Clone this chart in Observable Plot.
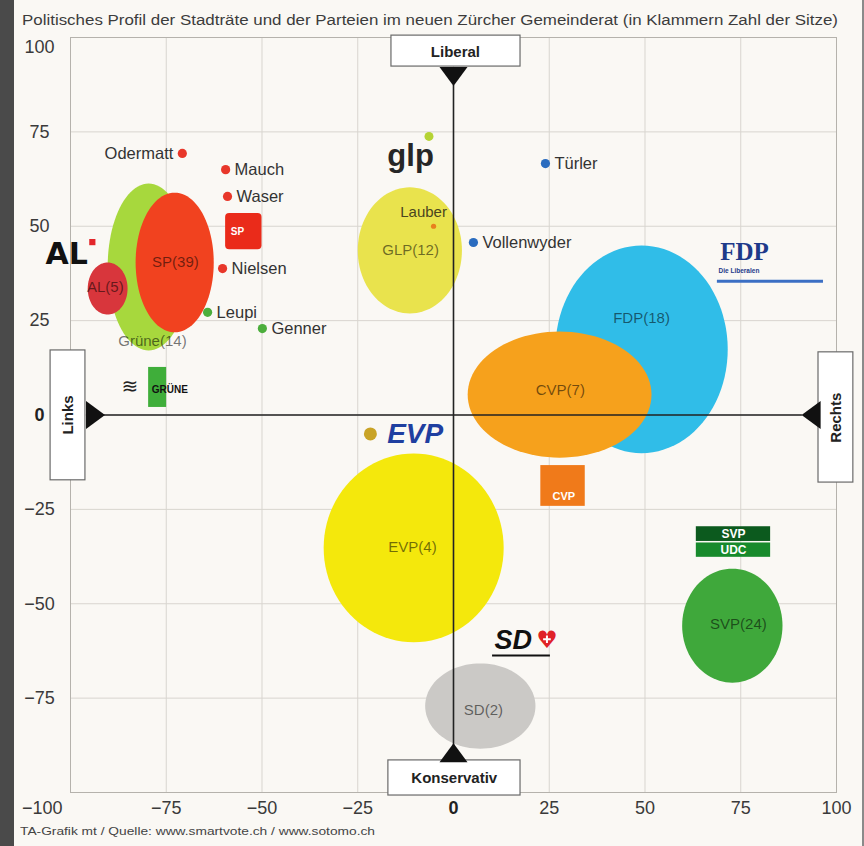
<!DOCTYPE html>
<html><head><meta charset="utf-8">
<script src="https://cdn.jsdelivr.net/npm/d3@7"></script>
<script src="https://cdn.jsdelivr.net/npm/@observablehq/plot@0.6"></script>
<style>
html,body{margin:0;padding:0;background:#faf8f4;width:864px;height:846px;overflow:hidden;position:relative;font-family:"Liberation Sans",Arial,sans-serif;}
#strip{position:absolute;left:0;top:0;width:14px;height:846px;background:#4a4a4a;}
#rstrip{position:absolute;right:0;top:0;width:2px;height:846px;background:#8a8a8a;}
#title{position:absolute;left:22px;top:12px;font:14px "Liberation Sans Narrow","Liberation Sans",sans-serif;color:#3c3c3c;white-space:nowrap;transform-origin:0 0;line-height:16px;}
#chart{position:absolute;left:0;top:30px;}
#caption{position:absolute;left:20px;top:825px;font:11px "Liberation Sans Narrow","Liberation Sans",sans-serif;color:#444;white-space:nowrap;transform-origin:0 0;line-height:13px;}
</style></head><body>
<div id="strip"></div><div id="rstrip"></div>
<div id="title">Politisches Profil der Stadträte und der Parteien im neuen Zürcher Gemeinderat (in Klammern Zahl der Sitze)</div>
<div id="chart"></div>
<div id="caption">TA-Grafik mt / Quelle: www.smartvote.ch / www.sotomo.ch</div>
<script>
// ---- data: parties (position = centre of profile ellipse, spread = semi-axes) ----
const partyNames = ["Grüne","SP","AL","GLP","FDP","CVP","EVP","SD","SVP"];
const partySeats = [14, 39, 5, 12, 18, 7, 4, 2, 24];
const partyX  = [-79.6, -72.8, -90.3, -11.4, 49.1, 27.7, -10.4, 7.0, 72.8];
const partyY  = [ 39.2,  40.4,  33.5,  43.6, 17.4,  5.4, -35.2, -77.1, -55.8];
const partyRX = [ 10.7,  10.2,   5.2,  13.6, 22.5, 24.0,  23.5, 14.4, 13.1];
const partyRY = [ 22.1,  18.5,   6.9,  16.7, 27.5, 16.7,  25.0, 11.3, 15.1];
const partyLabelX = [-78.6, -72.6, -90.9, -11.2, 49.1, 27.9, -10.7, 7.8, 74.4];
const partyLabelY = [ 19.5,  40.4,  33.8,  43.6, 25.6,  6.5, -35.1, -78.3, -55.4];

// ---- data: city councillors ----
const councillors = ["Odermatt","Mauch","Waser","Nielsen","Leupi","Genner","Lauber","Türler","Vollenwyder"];
const councillorParty = ["SP","SP","SP","SP","Grüne","Grüne","CVP","FDP","FDP"];
const councillorX = [-70.8, -59.5, -59.0, -60.3, -64.2, -49.9, -5.2, 24.0, 5.2];
const councillorY = [ 69.3,  65.0,  57.9,  38.8,  27.2,  22.9, 50.0, 66.6, 45.7];

// ---- tick values ----
const ticks = [-100, -75, -50, -25, 0, 25, 50, 75, 100];

// ---- styles ----
const partyColor = {"Grüne":"#a7d83d","SP":"#f1421f","AL":"#d8363c","GLP":"#e9e34d","FDP":"#30bde8","CVP":"#f6a11c","EVP":"#f4e80c","SD":"#cbc9c6","SVP":"#3fa83b"};
const dotColor = {"SP":"#e8372a","Grüne":"#4cae3c","CVP":"#e8801e","FDP":"#2a6cbf"};
const FONT = "Liberation Sans, Arial, sans-serif";
const NARROW = "Liberation Sans Narrow, Liberation Sans, sans-serif";

const parties = partyNames.map((name, i) => ({name, seats: partySeats[i], x: partyX[i], y: partyY[i], rx: partyRX[i], ry: partyRY[i], lx: partyLabelX[i], ly: partyLabelY[i]}));
const people = councillors.map((name, i) => ({name, party: councillorParty[i], x: councillorX[i], y: councillorY[i]}));

function ellipsePoints(p) {
  const n = 96;
  return d3.range(n).map(k => { const t = k / n * 2 * Math.PI; return {x: p.x + p.rx * Math.cos(t), y: p.y + p.ry * Math.sin(t)}; });
}
const tri = {draw(ctx) { ctx.moveTo(-14, -9); ctx.lineTo(14, -9); ctx.lineTo(0, 10); ctx.closePath(); }};

// axis end boxes (annotation)
const boxes = [
  {t: "Liberal", x1: -16.2, x2: 17.5, y1: 100.5, y2: 92.3, tx: 0.5, ty: 96.2, rot: 0},
  {t: "Konservativ", x1: -17, x2: 17.5, y1: -91.5, y2: -100.8, tx: 0.2, ty: -96.3, rot: 0},
  {t: "Links", x1: -105.2, x2: -96.1, y1: 17.1, y2: -17.3, tx: -100.6, ty: 0, rot: -90},
  {t: "Rechts", x1: 95.3, x2: 104.4, y1: 16.6, y2: -17.9, tx: 99.9, ty: -0.7, rot: -90}
];
const arrows = [
  {x: 0, y: 89.8, rot: 0}, {x: 0, y: -89.6, rot: 180},
  {x: -93.6, y: 0, rot: -90}, {x: 93.5, y: 0, rot: 90}
];

const marks = [
  Plot.gridX(ticks, {stroke: "#d8d5cf", strokeOpacity: 1}),
  Plot.gridY(ticks, {stroke: "#d8d5cf", strokeOpacity: 1}),
  Plot.frame({stroke: "#b5b2ac"})
];
for (const p of parties) {
  marks.push(Plot.line(ellipsePoints(p), {x: "x", y: "y", curve: "linear-closed", fill: partyColor[p.name], stroke: "none"}));
}
marks.push(
  Plot.text(parties, {x: "lx", y: "ly", text: d => `${d.name}(${d.seats})`, fill: "#000", fillOpacity: 0.55, fontSize: 15, fontFamily: FONT}),
  // axes lines
  Plot.ruleY([0], {x1: -91.4, x2: 91.1, stroke: "#222", strokeWidth: 1.6}),
  Plot.ruleX([0], {y1: 87.3, y2: -88, stroke: "#222", strokeWidth: 1.6}),
  Plot.rect(boxes, {x1: "x1", x2: "x2", y1: "y1", y2: "y2", fill: "#fff", stroke: "#6a6a6a", strokeWidth: 1.2}),
  Plot.text(boxes, {x: "tx", y: "ty", text: "t", rotate: "rot", fontWeight: "bold", fontSize: 15, fill: "#222", fontFamily: FONT}),
  Plot.dot(arrows, {x: "x", y: "y", rotate: "rot", symbol: tri, fill: "#111", stroke: "none"}),
  // councillors
  Plot.dot(people, {x: "x", y: "y", r: d => d.name === "Lauber" ? 2.6 : 4.6, fill: d => dotColor[d.party], stroke: "none"}),
  Plot.text(people.filter(d => d.name === "Odermatt"), {x: "x", y: "y", text: "name", textAnchor: "end", dx: -9, fontSize: 16.5, fill: "#333", fontFamily: FONT}),
  Plot.text(people.filter(d => d.name === "Lauber"), {x: "x", y: "y", text: "name", dx: -10, dy: -14, fontSize: 15, fill: "#4a4520", fontFamily: FONT}),
  Plot.text(people.filter(d => d.name !== "Odermatt" && d.name !== "Lauber"), {x: "x", y: "y", text: "name", textAnchor: "start", dx: 9, fontSize: 16.5, fill: "#333", fontFamily: FONT}),
  // logos
  Plot.text(["AL"], {x: -101, y: 42.6, text: d => d, fontFamily: "DejaVu Sans, sans-serif", fontWeight: "bold", fontSize: 30, fill: "#111"}),
  Plot.dot(["AL"], {x: -94.3, y: 45.8, symbol: "square", r: 3.5, fill: "#e3262a"}),
  Plot.rect(["SP"], {x1: -59.5, x2: -50, y1: 53.4, y2: 43.8, fill: "#ea2b1a", rx: 4}),
  Plot.text(["SP"], {x: -56.4, y: 48.6, text: d => d, fill: "#fff", fontWeight: "bold", fontSize: 10, fontFamily: FONT}),
  Plot.rect(["GRÜNE"], {x1: -79.6, x2: -74.9, y1: 12.6, y2: 2.0, fill: "#3fae3a"}),
  Plot.text(["GRÜNE"], {x: -78.8, y: 6.8, text: d => d, textAnchor: "start", fill: "#111", fontWeight: "bold", fontSize: 10, fontFamily: FONT}),
  Plot.text(["≋"], {x: -84.5, y: 7.6, text: d => d, fill: "#222", fontSize: 20, fontFamily: "DejaVu Sans, sans-serif"}),
  Plot.text(["glp"], {x: -11.2, y: 68.5, text: d => d, fontFamily: NARROW, fontWeight: "bold", fontSize: 31, fill: "#262626"}),
  Plot.dot(["leaf"], {x: -6.4, y: 73.8, r: 4.5, fill: "#b5d334", stroke: "none"}),
  Plot.text(["FDP"], {x: 76, y: 43.2, text: d => d, fontFamily: "Liberation Serif, serif", fontWeight: "bold", fontSize: 25, fill: "#1e3a8a"}),
  Plot.text(["Die Liberalen"], {x: 69.2, y: 38.2, text: d => d, textAnchor: "start", fontFamily: FONT, fontWeight: "bold", fontSize: 6.5, fill: "#1e3a8a"}),
  Plot.ruleY([35.4], {x1: 68.9, x2: 96.6, stroke: "#3b6fc4", strokeWidth: 3}),
  Plot.text(["EVP"], {x: -10, y: -5, text: d => d, fontFamily: FONT, fontWeight: "bold", fontStyle: "italic", fontSize: 28, fill: "#1f3fa0"}),
  Plot.dot(["evp"], {x: -21.7, y: -5, r: 6.5, fill: "#c9a326", stroke: "none"}),
  Plot.rect(["CVP"], {x1: 22.8, x2: 34.4, y1: -13.4, y2: -24.2, fill: "#f07a1a"}),
  Plot.text(["CVP"], {x: 28.8, y: -21.6, text: d => d, fill: "#fff", fontWeight: "bold", fontSize: 11, fontFamily: FONT}),
  Plot.rect(["SVP"], {x1: 63.4, x2: 82.8, y1: -29.6, y2: -33.5, fill: "#0c5a1e"}),
  Plot.rect(["UDC"], {x1: 63.4, x2: 82.8, y1: -33.9, y2: -37.7, fill: "#178a2c"}),
  Plot.text(["SVP"], {x: 73.1, y: -31.6, text: d => d, fill: "#fff", fontWeight: "bold", fontSize: 12, fontFamily: FONT}),
  Plot.text(["UDC"], {x: 73.1, y: -35.8, text: d => d, fill: "#fff", fontWeight: "bold", fontSize: 12, fontFamily: FONT}),
  Plot.text(["SD"], {x: 15.6, y: -59.8, text: d => d, fontFamily: FONT, fontWeight: "bold", fontStyle: "italic", fontSize: 27, fill: "#111"}),
  Plot.text(["♥"], {x: 24.4, y: -59.8, text: d => d, fontFamily: "DejaVu Sans, sans-serif", fontSize: 24, fill: "#e02228"}),
  Plot.dot(["cross"], {x: 24.4, y: -59.4, symbol: "plus", r: 2.6, fill: "none", stroke: "#fff", strokeWidth: 2}),
  Plot.ruleY([-63.7], {x1: 10.2, x2: 25.3, stroke: "#111", strokeWidth: 2}),
  // tick labels
  Plot.axisX(ticks.filter(t => t !== 0 && t !== -100), {tickSize: 0, tickPadding: 9, fontSize: 18, fill: "#3a3a3a", label: null, fontFamily: FONT, tickFormat: d => d < 0 ? "−" + Math.abs(d) : String(d)}),
  Plot.axisX([-100], {tickSize: 0, tickPadding: 9, fontSize: 18, fill: "#3a3a3a", label: null, fontFamily: FONT, textAnchor: "end", dx: -8, tickFormat: d => "−" + Math.abs(d)}),
  Plot.axisX([0], {tickSize: 0, tickPadding: 9, fontSize: 18, fill: "#222", fontWeight: "bold", label: null, fontFamily: FONT}),
  Plot.axisY(ticks.filter(t => t !== 0 && t !== 100 && t !== -100), {tickSize: 0, tickPadding: 31, textAnchor: "middle", fontSize: 18, fill: "#3a3a3a", label: null, fontFamily: FONT, tickFormat: d => d < 0 ? "−" + Math.abs(d) : String(d)}),
  Plot.axisY([100], {tickSize: 0, tickPadding: 31, textAnchor: "middle", dy: 10, fontSize: 18, fill: "#3a3a3a", label: null, fontFamily: FONT}),
  Plot.axisY([0], {tickSize: 0, tickPadding: 31, textAnchor: "middle", fontSize: 18, fill: "#222", fontWeight: "bold", label: null, fontFamily: FONT})
);

const chart = Plot.plot({
  width: 864, height: 790,
  marginLeft: 70, marginRight: 28, marginTop: 7, marginBottom: 28,
  x: {domain: [-100, 100]}, y: {domain: [-100, 100]},
  r: {type: "identity"},
  style: {background: "transparent", fontFamily: FONT, overflow: "visible"},
  marks
});
document.getElementById("chart").appendChild(chart);

function fit(id, target) {
  const el = document.getElementById(id);
  const w = el.getBoundingClientRect().width;
  if (w > 0) el.style.transform = `scaleX(${target / w})`;
}
fit("title", 816);
fit("caption", 355);
</script>
</body></html>
